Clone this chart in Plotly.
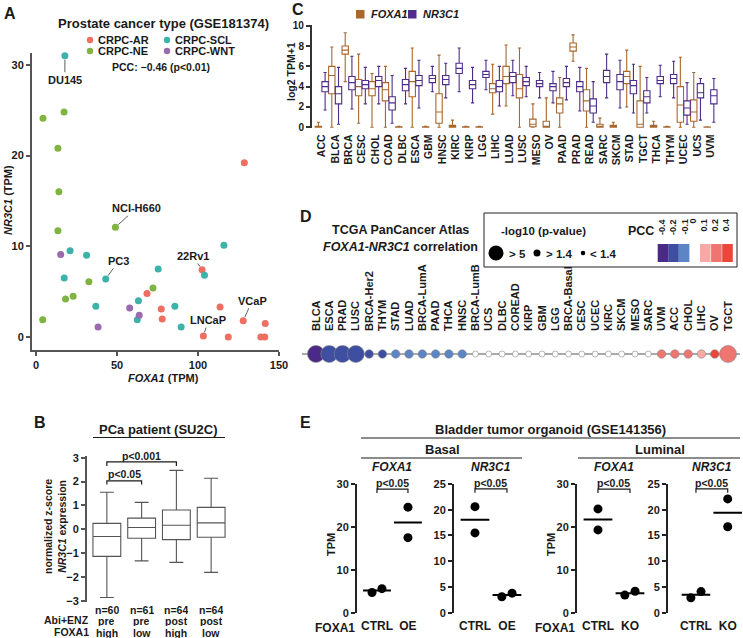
import numpy as np
import plotly.graph_objects as go

W, H = 743, 638
FONT = "Liberation Sans, Arial, Helvetica, sans-serif"
INK = "#1a1a1a"

# ---------------- Panel A data ----------------
a_types = ["CRPC-AR", "CRPC-SCL", "CRPC-NE", "CRPC-WNT"]
a_colors = {"CRPC-AR": "#EC6F61", "CRPC-SCL": "#3DB2A9", "CRPC-NE": "#80B441", "CRPC-WNT": "#9A6AAF"}
ar_foxa1 = [68.5, 77.3, 77.9, 102.5, 103.3, 113.6, 118.7, 127.9, 128.6, 138.8, 141.2, 141.5]
ar_nr3c1 = [4.8, 3.1, 2.0, 7.4, 0.1, 3.3, 0.0, 1.8, 19.2, 0.0, 0.0, 1.5]
ar_label = ["", "", "", "22Rv1", "LNCaP", "", "", "VCaP", "", "", "", ""]
scl_foxa1 = [17.8, 21.0, 31.2, 17.4, 43.0, 36.9, 63.2, 62.5, 75.4, 85.7, 89.6, 104.0, 116.0]
scl_nr3c1 = [31.0, 9.5, 9.0, 6.5, 6.4, 3.4, 4.0, 1.9, 7.5, 3.4, 1.1, 6.8, 10.1]
scl_label = ["DU145", "", "", "", "PC3", "", "", "", "", "", "", "", ""]
ne_foxa1 = [4.3, 17.3, 13.5, 14.1, 13.5, 49.0, 32.6, 18.2, 22.9, 72.2, 4.1]
ne_nr3c1 = [24.1, 24.8, 20.8, 16.0, 11.7, 12.1, 6.1, 4.2, 4.5, 5.4, 1.9]
ne_label = ["", "", "", "", "", "NCI-H660", "", "", "", "", ""]
wnt_foxa1 = [15.2, 57.8, 63.7, 38.3]
wnt_nr3c1 = [9.1, 3.2, 2.4, 1.1]
wnt_label = ["", "", "", ""]
a_pcc_text = "PCC: \u22120.46 (p<0.01)"

# ---------------- Panel C data ----------------
c_cats = ["ACC", "BLCA", "BRCA", "CESC", "CHOL", "COAD", "DLBC", "ESCA", "GBM", "HNSC",
          "KIRC", "KIRP", "LGG", "LIHC", "LUAD", "LUSC", "MESO", "OV", "PAAD", "PRAD",
          "READ", "SARC", "SKCM", "STAD", "TGCT", "THCA", "THYM", "UCEC", "UCS", "UVM"]
foxa1_lo = [0, 0, 4.5, 0.4, 0, 0, 0, 0, 0, 0, 0, 0, 0, 1.3, 2.1, 0, 0, 0, 0, 6.5, 0, 0, 0, 2.0, 0, 0, 0, 0, 0, 0]
foxa1_q1 = [0, 3.3, 7.2, 3.1, 3.1, 2.6, 0, 3.0, 0, 0.4, 0, 0, 0, 3.4, 4.3, 2.9, 0.05, 0, 1.4, 7.5, 1.6, 0, 0, 4.3, 0, 0, 0, 0.5, 0.6, 0]
foxa1_med = [0, 5.1, 7.6, 4.0, 3.8, 3.7, 0, 4.5, 0, 1.5, 0.05, 0, 0, 3.8, 5.0, 3.8, 0.3, 0.1, 2.3, 7.9, 2.6, 0.05, 0.05, 5.0, 0.3, 0.05, 0, 2.2, 1.5, 0]
foxa1_q3 = [0.1, 6.0, 8.0, 4.7, 4.5, 4.4, 0.05, 5.5, 0.05, 3.3, 0.2, 0.05, 0.05, 4.3, 6.0, 5.2, 0.8, 0.6, 2.9, 8.3, 3.7, 0.3, 0.2, 5.5, 2.6, 0.2, 0.05, 4.0, 2.7, 0.02]
foxa1_hi = [0.5, 7.9, 9.3, 7.2, 5.3, 6.0, 0.1, 7.8, 0.1, 7.1, 0.7, 0.1, 0.1, 6.2, 8.1, 7.8, 2.3, 2.9, 4.9, 9.1, 5.8, 0.9, 0.5, 7.6, 6.0, 0.6, 0.1, 6.9, 5.4, 0.05]
nr3c1_lo = [1.7, 0.3, 1.8, 2.3, 2.3, 0.4, 2.3, 1.9, 3.5, 2.9, 3.5, 2.4, 3.7, 2.1, 3.1, 3.0, 2.9, 2.4, 2.7, 1.6, 0.5, 2.9, 1.9, 1.4, 1.4, 3.0, 2.9, 0.3, 0.7, 0.5]
nr3c1_q1 = [3.5, 2.3, 3.7, 3.8, 4.0, 1.7, 3.6, 4.1, 4.4, 4.2, 5.3, 3.8, 4.9, 3.5, 4.4, 4.1, 4.0, 3.6, 4.0, 3.5, 1.4, 4.4, 3.7, 3.3, 2.4, 4.3, 4.3, 1.2, 2.9, 2.3]
nr3c1_med = [4.0, 3.3, 4.4, 4.2, 4.6, 2.4, 4.2, 4.6, 4.8, 4.7, 5.8, 4.2, 5.2, 4.0, 5.0, 4.5, 4.3, 4.0, 4.4, 4.0, 2.1, 5.0, 4.5, 4.1, 3.0, 4.6, 4.8, 1.9, 3.4, 3.1]
nr3c1_q3 = [4.5, 4.0, 5.0, 4.6, 5.0, 3.0, 4.7, 5.1, 5.1, 5.1, 6.3, 4.6, 5.5, 4.6, 5.4, 4.9, 4.6, 4.3, 4.8, 4.5, 2.8, 5.6, 5.2, 4.6, 3.6, 5.0, 5.2, 2.6, 4.3, 3.7]
nr3c1_hi = [5.4, 5.9, 7.0, 5.9, 6.0, 5.1, 5.8, 6.6, 6.0, 6.3, 7.8, 5.9, 6.6, 6.0, 6.6, 6.0, 5.4, 5.5, 6.0, 5.9, 4.5, 7.2, 6.6, 6.2, 4.9, 6.1, 6.5, 4.4, 4.8, 4.8]
c_yticks = [0, 2, 4, 6, 8, 10]

# ---------------- Panel D data ----------------
d_cats = ["BLCA", "ESCA", "PRAD", "LUSC", "BRCA-Her2", "THYM", "STAD", "LUAD", "BRCA-LumA", "PAAD",
          "THCA", "HNSC", "BRCA-LumB", "UCS", "DLBC", "COREAD", "KIRP", "GBM", "LGG", "BRCA-Basal",
          "CESC", "UCEC", "KIRC", "SKCM", "MESO", "SARC", "UVM", "ACC", "CHOL", "LIHC", "OV", "TGCT"]
d_pcc = [-0.45, -0.30, -0.28, -0.27, -0.25, -0.22, -0.18, -0.16, -0.15, -0.14,
         -0.12, -0.11, -0.08, -0.07, -0.06, -0.05, -0.04, -0.03, -0.02, -0.01,
         0.0, 0.01, 0.02, 0.03, 0.04, 0.06, 0.21, 0.22, 0.23, 0.15, 0.42, 0.30]
d_nlogp = [20, 9, 12, 15, 2.5, 2.2, 3.5, 3.2, 3.0, 2.0,
           2.5, 2.0, 0.9, 0.5, 0.3, 0.6, 0.4, 0.2, 0.3, 0.1,
           0.1, 0.2, 0.3, 0.5, 0.4, 0.8, 1.6, 1.5, 1.6, 3.0, 2.6, 6.5]
pcc_bins = ["-0.4", "-0.2", "-0.1", "0", "0.1", "0.2", "0.4"]
pcc_colors = ["#4A2A86", "#3E4EA0", "#5B85C4", "#F6AAA6", "#EF7571", "#E8473A"]

# ---------------- Panel B data ----------------
b_n = ["n=60", "n=61", "n=64", "n=64"]
b_abi = ["pre", "pre", "post", "post"]
b_foxa1 = ["high", "low", "high", "low"]
b_lo = [-2.85, -1.32, -1.38, -1.80]
b_q1 = [-1.13, -0.37, -0.43, -0.33]
b_med = [-0.30, 0.08, 0.17, 0.27]
b_q3 = [0.25, 0.47, 0.81, 0.92]
b_hi = [1.55, 1.13, 2.47, 2.14]
b_yticks = [-3, -2, -1, 0, 1, 2, 3]

# ---------------- Panel E data ----------------
e_basal_foxa1 = {"CTRL": [4.7, 5.6], "OE": [24.6, 17.5]}
e_basal_nr3c1 = {"CTRL": [20.6, 15.5], "OE": [3.1, 3.8]}
e_lum_foxa1 = {"CTRL": [24.2, 19.3], "KO": [4.1, 5.0]}
e_lum_nr3c1 = {"CTRL": [2.9, 4.1], "KO": [22.1, 16.7]}


# ---------------- helpers ----------------
def xd(a, b):
    return [a / W, b / W]


def yd(top, bottom):
    return [1 - bottom / H, 1 - top / H]


def PX(p):
    return p / W


def PY(p):
    return 1 - p / H


annotations = []
shapes = []


def fnt(size):
    return dict(size=size, family=FONT, weight="bold", color=INK)


def txt(x, y, s, size=11, xanchor="center", yanchor="middle", angle=0):
    annotations.append(dict(x=PX(x), y=PY(y), xref="paper", yref="paper", text=s, showarrow=False,
                            font=fnt(size), xanchor=xanchor, yanchor=yanchor, textangle=angle))


def hline(x0, x1, y, color=INK, width=1):
    shapes.append(dict(type="line", xref="paper", yref="paper", x0=PX(x0), x1=PX(x1), y0=PY(y), y1=PY(y),
                       line=dict(color=color, width=width)))


fig = go.Figure()

# ================= Panel A =================
groups = [("CRPC-AR", ar_foxa1, ar_nr3c1, ar_label), ("CRPC-SCL", scl_foxa1, scl_nr3c1, scl_label),
          ("CRPC-NE", ne_foxa1, ne_nr3c1, ne_label), ("CRPC-WNT", wnt_foxa1, wnt_nr3c1, wnt_label)]
label_offsets = {"DU145": (0, 24), "NCI-H660": (21, -19), "PC3": (13, -18), "22Rv1": (-9, -14),
                 "LNCaP": (5, -16), "VCaP": (9, -20)}
for name, xs, ys, labs in groups:
    fig.add_trace(go.Scatter(x=xs, y=ys, mode="markers", xaxis="x", yaxis="y", cliponaxis=False,
                             marker=dict(size=7, color=a_colors[name]), showlegend=False, name=name))
    for xv, yv, lab in zip(xs, ys, labs):
        if lab:
            ax, ay = label_offsets[lab]
            annotations.append(dict(x=xv, y=yv, xref="x", yref="y", text=lab, showarrow=True,
                                    arrowhead=0, arrowwidth=0.8, arrowcolor="#333", standoff=4,
                                    ax=ax, ay=ay, font=fnt(11)))

axis_common = dict(showgrid=False, zeroline=False, ticks="outside", ticklen=4, tickwidth=1.5,
                   automargin=False, tickfont=fnt(11))
layout_axes = {}
layout_axes["xaxis"] = dict(domain=xd(32, 279), range=[-2.5, 150], anchor="y", showline=True, linewidth=2,
                            linecolor="#555", tickcolor="#555", tickvals=[0, 50, 100, 150], **axis_common)
layout_axes["yaxis"] = dict(domain=yd(53, 350), range=[-1.43, 31.3], anchor="x", showline=True, linewidth=2,
                            linecolor="#555", tickcolor="#555", tickvals=[0, 10, 20, 30], **axis_common)

txt(10, 13, "A", size=16)
txt(163, 23, "Prostate cancer type (GSE181374)", size=13)
leg_pos = {"CRPC-AR": (90, 40), "CRPC-SCL": (167, 40), "CRPC-NE": (90, 51), "CRPC-WNT": (167, 51)}
for name in a_types:
    cx, cy = leg_pos[name]
    shapes.append(dict(type="circle", xref="paper", yref="paper", x0=PX(cx - 3.2), x1=PX(cx + 3.2),
                       y0=PY(cy + 3.2), y1=PY(cy - 3.2), fillcolor=a_colors[name], line=dict(width=0)))
    txt(cx + 6, cy, name, size=11, xanchor="left")
txt(161, 67, a_pcc_text, size=10.5)
txt(163, 378, "<i>FOXA1</i> (TPM)", size=11)
txt(8, 200, "<i>NR3C1</i> (TPM)", size=11, angle=-90)

# ================= Panel C =================
fox_col, nr_col = "#A8672C", "#4F2D8A"
fig.add_trace(go.Box(x=c_cats, q1=foxa1_q1, median=foxa1_med, q3=foxa1_q3, lowerfence=foxa1_lo,
                     upperfence=foxa1_hi, xaxis="x2", yaxis="y2", name="FOXA1", offsetgroup="f",
                     fillcolor="white", line=dict(color=fox_col, width=1.1), whiskerwidth=0.5,
                     boxpoints=False, showlegend=False))
fig.add_trace(go.Box(x=c_cats, q1=nr3c1_q1, median=nr3c1_med, q3=nr3c1_q3, lowerfence=nr3c1_lo,
                     upperfence=nr3c1_hi, xaxis="x2", yaxis="y2", name="NR3C1", offsetgroup="n",
                     fillcolor="white", line=dict(color=nr_col, width=1.1), whiskerwidth=0.5,
                     boxpoints=False, showlegend=False))
layout_axes["xaxis2"] = dict(domain=xd(311.7, 740), range=[-0.75, 31.2], anchor="y2", type="category",
                             categoryorder="array", categoryarray=c_cats, showline=False, showgrid=False,
                             zeroline=False, ticks="", tickangle=-90, ticklabelstandoff=3, automargin=False,
                             tickfont=fnt(10.5))
c_axis = dict(axis_common)
c_axis["tickfont"] = fnt(10)
layout_axes["yaxis2"] = dict(domain=yd(25, 128.3), range=[-0.1, 10.07], anchor="x2", showline=True,
                             linewidth=1.5, linecolor="#333", tickcolor="#333", tickvals=c_yticks,
                             **c_axis)
txt(298, 10, "C", size=16)
txt(291, 72, "log2 TPM+1", size=10.5, angle=-90)
for (x0, x1, col, lab) in [(356, 364.5, fox_col, "FOXA1"), (408, 416.5, nr_col, "NR3C1")]:
    shapes.append(dict(type="rect", xref="paper", yref="paper", x0=PX(x0), x1=PX(x1), y0=PY(18.5),
                       y1=PY(10), fillcolor=col, line=dict(width=0)))
    txt(x1 + 4, 14.5, "<i>%s</i>" % lab, size=11, xanchor="left")


# ================= Panel D =================
def pcc_color(v):
    if v <= -0.4:
        return pcc_colors[0]
    if v <= -0.2:
        return pcc_colors[1]
    if v <= -0.1:
        return pcc_colors[2]
    if v < 0.1:
        return "white"
    if v < 0.2:
        return pcc_colors[3]
    if v < 0.4:
        return pcc_colors[4]
    return pcc_colors[5]


def p_size(v):
    if v > 5:
        return 17
    if v > 1.4:
        return 8.5
    return 6


shapes.append(dict(type="line", xref="x3 domain", yref="y3", x0=0, x1=1, y0=0, y1=0,
                   line=dict(color="#555", width=1), layer="below"))
fig.add_trace(go.Scatter(x=d_cats, y=[0] * len(d_cats), mode="markers", xaxis="x3", yaxis="y3",
                         cliponaxis=False, showlegend=False,
                         marker=dict(size=[p_size(v) for v in d_nlogp], color=[pcc_color(v) for v in d_pcc],
                                     line=dict(color="#888", width=0.6), opacity=1)))
layout_axes["xaxis3"] = dict(domain=xd(302, 740), range=[-1.05, 31.9], anchor="y3", side="top", type="category",
                             categoryorder="array", categoryarray=d_cats, showline=False, showgrid=False,
                             zeroline=False, ticks="", tickangle=-90, ticklabelstandoff=2, automargin=False,
                             tickfont=fnt(11))
layout_axes["yaxis3"] = dict(domain=yd(334, 374), range=[-1, 1], anchor="x3", visible=False)
txt(306, 217, "D", size=16)
txt(400, 230, "TCGA PanCancer Atlas", size=12.5)
txt(400, 247, "<i>FOXA1-NR3C1</i> correlation", size=12.5)
shapes.append(dict(type="rect", xref="paper", yref="paper", x0=PX(484), x1=PX(737), y0=PY(267), y1=PY(213),
                   line=dict(color="#222", width=1), fillcolor="rgba(0,0,0,0)"))
txt(543, 231, "-log10 (p-value)", size=11.5)
for cx, d, lab in [(496, 15, "> 5"), (537, 7, "> 1.4"), (583, 4.5, "< 1.4")]:
    shapes.append(dict(type="circle", xref="paper", yref="paper", x0=PX(cx - d / 2), x1=PX(cx + d / 2),
                       y0=PY(253 + d / 2), y1=PY(253 - d / 2), fillcolor="black", line=dict(width=0)))
    txt(cx + d / 2 + 3, 253.5, lab, size=11.5, xanchor="left")
txt(641, 231, "PCC", size=12.5)
sw_x = [657.7, 668.2, 678.8, 700, 711.1, 722.2]
for i, x0 in enumerate(sw_x):
    shapes.append(dict(type="rect", xref="paper", yref="paper", x0=PX(x0), x1=PX(x0 + 10.6), y0=PY(262),
                       y1=PY(244), fillcolor=pcc_colors[i], line=dict(width=0)))
lab_x = [662, 673, 684.5, 693, 704, 715, 726]
for lx, lab in zip(lab_x, pcc_bins):
    txt(lx, 217, lab, size=9, angle=-90, yanchor="top")

# ================= Panel B =================
fig.add_trace(go.Box(x=list(range(len(b_n))), q1=b_q1, median=b_med, q3=b_q3, lowerfence=b_lo,
                     upperfence=b_hi, xaxis="x4", yaxis="y4", width=0.8, fillcolor="white",
                     line=dict(color="#555", width=1.1), whiskerwidth=0.5, boxpoints=False, showlegend=False))
layout_axes["xaxis4"] = dict(domain=xd(86.7, 232), range=[-0.58, 3.6], anchor="y4", visible=False)
layout_axes["yaxis4"] = dict(domain=yd(456, 602), range=[-3.04, 3.07], anchor="x4", showline=True,
                             linewidth=1.5, linecolor="#555", tickcolor="#555", tickvals=b_yticks, **axis_common)
txt(40, 422, "B", size=16)
txt(158, 429, "PCa patient (SU2C)", size=13)
hline(93, 225, 437.5, width=1.2)
txt(55, 527, "normalized z-score<br><i>NR3C1</i> expression", size=10.5, angle=-90)
for i in range(len(b_n)):
    for yy, arr in [(609, b_n), (620, b_abi), (632, b_foxa1)]:
        annotations.append(dict(x=i, y=PY(yy), xref="x4", yref="paper", text=arr[i], showarrow=False,
                                font=fnt(10.5), xanchor="center", yanchor="middle", height=11))
txt(91, 620, "Abi+ENZ", size=10.5, xanchor="right")
txt(91, 632, "FOXA1", size=10.5, xanchor="right")
# significance brackets
for (i0, i1, ybar, ytick, ytxt_px, lab) in [(0, 1, 2.03, 1.88, 474, "p<0.05"), (0, 2, 2.82, 2.65, 455.5, "p<0.001")]:
    shapes.append(dict(type="path", xref="x4", yref="y4",
                       path="M %g,%g L %g,%g L %g,%g L %g,%g" % (i0, ytick, i0, ybar, i1, ybar, i1, ytick),
                       line=dict(color=INK, width=1.2)))
    annotations.append(dict(x=(i0 + i1) / 2, y=PY(ytxt_px), xref="x4", yref="paper", text=lab, showarrow=False,
                            font=fnt(10.5), xanchor="center", yanchor="middle"))

# ================= Panel E =================
txt(305, 422, "E", size=16)
txt(550, 429, "Bladder tumor organoid (GSE141356)", size=13)
hline(361, 740, 438, width=1.2)
txt(442, 449.5, "Basal", size=13)
hline(361, 522, 458, width=1.2)
txt(660, 449.5, "Luminal", size=13)
hline(578, 740, 458, width=1.2)

e_panels = [
    ("5", e_basal_foxa1, "FOXA1", (357, 425), [-0.645, 1.55], [0, 30], [0, 10, 20, 30],
     {"CTRL": [-0.16, 0.16], "OE": [0, 0]}, (28.8, 27.9), True),
    ("6", e_basal_nr3c1, "NR3C1", (454, 522), [-0.656, 1.47], [0, 25], [0, 5, 10, 15, 20, 25],
     {"CTRL": [0, 0], "OE": [-0.16, 0.16]}, (24.05, 23.3), False),
    ("7", e_lum_foxa1, "FOXA1", (577, 645), [-0.656, 1.47], [0, 30], [0, 10, 20, 30],
     {"CTRL": [0, 0], "KO": [-0.16, 0.16]}, (28.8, 27.9), True),
    ("8", e_lum_nr3c1, "NR3C1", (668, 742), [-0.88, 1.45], [0, 25], [0, 5, 10, 15, 20, 25],
     {"CTRL": [-0.16, 0.16], "KO": [0, 0]}, (24.05, 23.3), False),
]
for k, data, gene, (xa, xb), xr, yr, yt, jit, (ybar, ytick), first in e_panels:
    conds = list(data.keys())
    for i, c in enumerate(conds):
        vals = data[c]
        fig.add_trace(go.Scatter(x=[i + j for j in jit[c]], y=vals, mode="markers", xaxis="x" + k,
                                 yaxis="y" + k, cliponaxis=False, showlegend=False,
                                 marker=dict(size=9, color="black")))
        m = float(np.mean(vals))
        fig.add_trace(go.Scatter(x=[i - 0.45, i + 0.45], y=[m, m], mode="lines", xaxis="x" + k, yaxis="y" + k,
                                 cliponaxis=False, showlegend=False, line=dict(color="black", width=2)))
    layout_axes["xaxis" + k] = dict(domain=xd(xa, xb), range=xr, anchor="y" + k, showline=False, showgrid=False,
                                    zeroline=False, ticks="", tickvals=list(range(len(conds))), ticktext=conds,
                                    ticklabelstandoff=4, automargin=False, tickfont=fnt(12))
    layout_axes["yaxis" + k] = dict(domain=yd(484, 612.7), range=yr, anchor="x" + k, showline=True,
                                    linewidth=2, linecolor="#222", tickcolor="#222", tickvals=yt, **axis_common)
    annotations.append(dict(x=0.5, y=PY(467), xref="x%s" % k, yref="paper", text="<i>%s</i>" % gene,
                            showarrow=False, font=fnt(12), xanchor="center", yanchor="middle"))
    shapes.append(dict(type="path", xref="x" + k, yref="y" + k,
                       path="M 0,%g L 0,%g L 1,%g L 1,%g" % (ytick, ybar, ybar, ytick),
                       line=dict(color=INK, width=1.2)))
    annotations.append(dict(x=0.5, y=PY(482.5), xref="x" + k, yref="paper", text="p<0.05", showarrow=False,
                            font=fnt(10.5), xanchor="center", yanchor="middle"))
    if first:
        txt(xa - 26, 545, "TPM", size=11, angle=-90)
        txt(xa - 22, 627.5, "FOXA1", size=12, xanchor="center")

fig.update_layout(
    template="none",
    width=W, height=H, margin=dict(l=0, r=0, t=0, b=0, pad=0, autoexpand=False),
    paper_bgcolor="white", plot_bgcolor="white",
    font=dict(family=FONT, size=11, color=INK, weight="bold"),
    boxmode="group", boxgap=0.0, boxgroupgap=0.05,
    annotations=annotations, shapes=shapes, showlegend=False,
    **layout_axes,
)

pin_js = ("var gd=document.getElementById('{plot_id}');"
          "document.documentElement.style.margin='0';document.body.style.margin='0';"
          "document.body.style.padding='0';document.body.style.overflow='hidden';"
          "gd.style.position='fixed';gd.style.left='0px';gd.style.top='0px';")
fig.write_html("out.html", post_script=pin_js, config={"displayModeBar": False})
